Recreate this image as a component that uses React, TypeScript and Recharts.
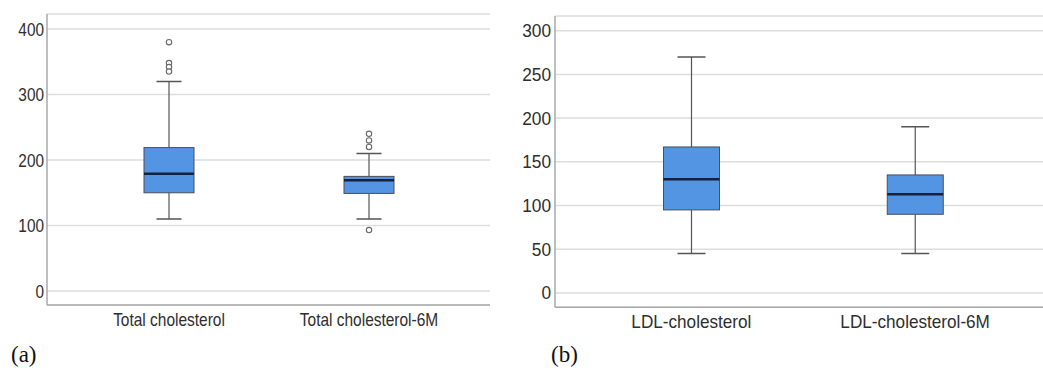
import React from "react";
import { ComposedChart, Bar, Scatter, XAxis, YAxis, CartesianGrid } from "recharts";

// Panel (a): total cholesterol
const totalCategories = ["Total cholesterol", "Total cholesterol-6M"];
const totalMin = [110, 110];
const totalQ1 = [150, 149];
const totalMedian = [179, 169];
const totalQ3 = [219, 175];
const totalMax = [320, 210];
const totalOutliers = [
  [380, 348, 342, 335],
  [240, 230, 220, 93],
];
const totalTicks = [0, 100, 200, 300, 400];

// Panel (b): LDL cholesterol
const ldlCategories = ["LDL-cholesterol", "LDL-cholesterol-6M"];
const ldlMin = [45, 45];
const ldlQ1 = [95, 90];
const ldlMedian = [130, 113];
const ldlQ3 = [167, 135];
const ldlMax = [270, 190];
const ldlTicks = [0, 50, 100, 150, 200, 250, 300];

const BOX_FILL = "#5394e3";
const BOX_STROKE = "#4a4f58";
const WHISKER = "#555555";
const MEDIAN = "#16213a";
const GRID = "#dddddd";
const AXIS = "#a8a8a8";
const TEXT = "#2e2e2e";
const FONT = "Liberation Sans, Arial, sans-serif";

function buildRows(cats: string[], mn: number[], q1: number[], md: number[], q3: number[], mx: number[], out?: number[][]) {
  return cats.map((name, i) => {
    const row: any = { name, min: mn[i], q1: q1[i], median: md[i], q3: q3[i], max: mx[i] };
    if (out) out[i].forEach((v, j) => (row["o" + (j + 1)] = v));
    return row;
  });
}

const totalRows = buildRows(totalCategories, totalMin, totalQ1, totalMedian, totalQ3, totalMax, totalOutliers);
const ldlRows = buildRows(ldlCategories, ldlMin, ldlQ1, ldlMedian, ldlQ3, ldlMax);

const BoxShape = (props: any) => {
  const { x, y, width, height, payload } = props;
  if (payload == null) return null;
  const top = Math.min(y, y + height);
  const h = Math.abs(height);
  const span = payload.max - payload.min;
  const k = span > 0 ? h / span : 0;
  const py = (v: number) => top + (payload.max - v) * k;
  const cx = x + width / 2;
  const capHalf = width / 4;
  const yq3 = py(payload.q3);
  const yq1 = py(payload.q1);
  const ymed = py(payload.median);
  const ymax = py(payload.max);
  const ymin = py(payload.min);
  return (
    <g>
      <line x1={cx} x2={cx} y1={ymax} y2={yq3} stroke={WHISKER} strokeWidth={1.2} />
      <line x1={cx} x2={cx} y1={yq1} y2={ymin} stroke={WHISKER} strokeWidth={1.2} />
      <line x1={cx - capHalf} x2={cx + capHalf} y1={ymax} y2={ymax} stroke={WHISKER} strokeWidth={1.5} />
      <line x1={cx - capHalf} x2={cx + capHalf} y1={ymin} y2={ymin} stroke={WHISKER} strokeWidth={1.5} />
      <rect x={x} y={yq3} width={width} height={yq1 - yq3} fill={BOX_FILL} stroke={BOX_STROKE} strokeWidth={1} />
      <line x1={x} x2={x + width} y1={ymed} y2={ymed} stroke={MEDIAN} strokeWidth={2.5} />
    </g>
  );
};

const Outlier = (props: any) => {
  const { cx, cy } = props;
  if (cx == null || cy == null) return null;
  return <circle cx={cx} cy={cy} r={2.7} fill="#ffffff" stroke="#6a6a6a" strokeWidth={1.1} />;
};

const makeYTick = (fontSize: number, sx: number) => (props: any) => {
  const { x, y, payload } = props;
  return (
    <g transform={`translate(${x},${y}) scale(${sx},1)`}>
      <text x={0} y={0} dy="0.36em" textAnchor="end" fontSize={fontSize} fontFamily={FONT} fill={TEXT}>
        {payload.value}
      </text>
    </g>
  );
};

const makeXTick = (fontSize: number, sx: number) => (props: any) => {
  const { x, y, payload } = props;
  return (
    <g transform={`translate(${x},${y}) scale(${sx},1)`}>
      <text x={0} y={0} dy="0.74em" textAnchor="middle" fontSize={fontSize} fontFamily={FONT} fill={TEXT}>
        {payload.value}
      </text>
    </g>
  );
};

const leftYTick = makeYTick(18.5, 0.83);
const leftXTick = makeXTick(18, 0.86);
const rightYTick = makeYTick(18, 0.96);
const rightXTick = makeXTick(17.5, 0.98);

export default function App() {
  return (
    <div style={{ position: "absolute", left: 0, top: 0, width: 1043, height: 368, background: "#fff", overflow: "hidden" }}>
      <div style={{ position: "absolute", left: 0, top: 0 }}>
        <ComposedChart width={500} height={340} data={totalRows} margin={{ top: 14, right: 10, bottom: 5, left: 7 }}>
          <CartesianGrid vertical={false} stroke={GRID} strokeWidth={1.5} />
          <XAxis
            dataKey="name"
            padding={{ left: 22, right: 21 }}
            tickLine={false}
            axisLine={{ stroke: AXIS, strokeWidth: 1.5 }}
            tick={leftXTick}
            interval={0}
          />
          <YAxis
            width={40}
            domain={[-21.4, 423]}
            allowDataOverflow
            ticks={totalTicks}
            tickLine={false}
            tickSize={0}
            tickMargin={3}
            axisLine={{ stroke: AXIS, strokeWidth: 1.5 }}
            tick={leftYTick}
          />
          <Bar dataKey={(d: any) => [d.min, d.max]} barSize={50} shape={BoxShape} isAnimationActive={false} />
          <Scatter dataKey="o1" shape={Outlier} isAnimationActive={false} />
          <Scatter dataKey="o2" shape={Outlier} isAnimationActive={false} />
          <Scatter dataKey="o3" shape={Outlier} isAnimationActive={false} />
          <Scatter dataKey="o4" shape={Outlier} isAnimationActive={false} />
        </ComposedChart>
      </div>
      <div style={{ position: "absolute", left: 520, top: 0 }}>
        <ComposedChart width={523} height={340} data={ldlRows} margin={{ top: 16, right: 0, bottom: 2.7, left: 0 }}>
          <CartesianGrid vertical={false} stroke={GRID} strokeWidth={1.5} />
          <XAxis
            dataKey="name"
            padding={{ left: 24.5, right: 16 }}
            tickLine={false}
            axisLine={{ stroke: AXIS, strokeWidth: 1.5 }}
            tick={rightXTick}
            interval={0}
          />
          <YAxis
            width={35}
            domain={[-16.4, 316.8]}
            allowDataOverflow
            ticks={ldlTicks}
            tickLine={false}
            tickSize={0}
            tickMargin={4}
            axisLine={{ stroke: AXIS, strokeWidth: 1.5 }}
            tick={rightYTick}
          />
          <Bar dataKey={(d: any) => [d.min, d.max]} barSize={56} shape={BoxShape} isAnimationActive={false} />
        </ComposedChart>
      </div>
      <svg style={{ position: "absolute", left: 0, top: 0 }} width={1043} height={368}>
        <text x={11} y={362} fontFamily="Liberation Serif, Times New Roman, serif" fontSize={23} fill="#111">(a)</text>
        <text x={551} y={362} fontFamily="Liberation Serif, Times New Roman, serif" fontSize={23} fill="#111">(b)</text>
      </svg>
    </div>
  );
}
